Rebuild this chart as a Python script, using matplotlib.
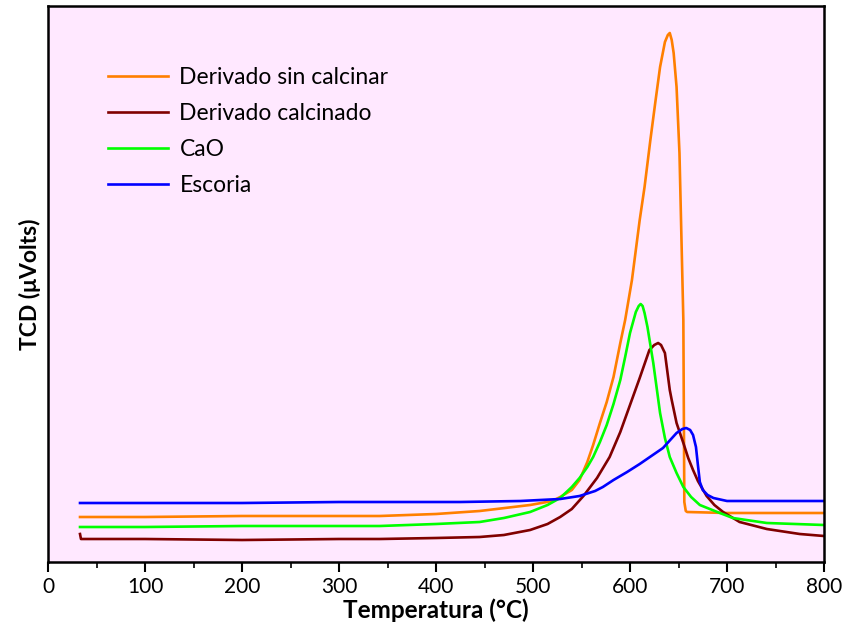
import numpy as np
import matplotlib
matplotlib.use("Agg")
import matplotlib.pyplot as plt
from matplotlib.ticker import MultipleLocator

plt.rcParams['font.family'] = ['Lato', 'DejaVu Sans']

# Data (temperature in °C, signal in arbitrary TCD units)
t_sin = [33, 100, 200, 300, 342, 400, 445, 497, 520, 528, 540, 548, 556, 562, 569, 576, 583, 590, 595, 602, 610, 615,
         621, 626, 631, 636, 639, 641, 643, 645, 648, 651, 653, 655, 656, 657.5, 659, 700, 800]
v_sin = [45, 45, 46, 46, 46, 48, 51, 57, 61, 65, 72, 82, 100, 117, 139, 160, 185, 219, 242, 282, 342, 375,
         422, 459, 495, 520, 527, 529, 522, 509, 475, 409, 325, 242, 60, 51, 50, 49, 49]

t_cal = [33, 34, 40, 100, 200, 300, 342, 400, 445, 470, 497, 515, 528, 540, 552, 566, 579, 590, 600, 610, 620, 625,
         629, 632, 636, 641, 643, 648, 655, 660, 665, 670, 679, 687, 696, 713, 741, 775, 800]
v_cal = [28, 23, 23, 23, 22, 23, 23, 24, 25, 27, 32, 38, 45, 53, 66, 84, 105, 130, 157, 184, 212, 217,
         219, 217, 209, 172, 162, 139, 119, 104, 92, 81, 66, 57, 50, 40, 33, 28, 26]

t_cao = [33, 100, 200, 300, 342, 400, 445, 470, 497, 515, 528, 540, 548, 556, 562, 569, 576, 583, 590, 595, 600, 606,
         609, 611, 613, 615, 618, 624, 631, 636, 641, 648, 655, 663, 672, 690, 706, 741, 800]
v_cao = [35, 35, 36, 36, 36, 38, 40, 44, 50, 57, 64, 75, 84, 95, 105, 120, 137, 158, 182, 205, 229, 250,
         256, 258, 256, 249, 235, 199, 149, 124, 105, 89, 75, 65, 57, 50, 44, 39, 37]

t_esc = [33, 100, 200, 300, 342, 425, 487, 528, 548, 564, 572, 583, 597, 610, 622, 634, 648, 654, 658, 662, 665,
         668, 670, 672, 675, 680, 686, 700, 750, 800]
v_esc = [59, 59, 59, 60, 60, 60, 61, 63, 66, 71, 75, 82, 90, 98, 106, 114, 129, 133, 134, 132, 127,
         115, 97, 80, 72, 67, 64, 61, 61, 61]

labels = ["Derivado sin calcinar", "Derivado calcinado", "CaO", "Escoria"]
colors = ["#FF7F00", "#800000", "#00FF00", "#0000FF"]

fig = plt.figure(figsize=(8.47, 6.34), dpi=100)
ax = fig.add_axes([48/847, 1-562/634, (824-48)/847, (562-6)/634])
ax.set_facecolor('#FFE8FF')

for t, v, lab, c in zip([t_sin, t_cal, t_cao, t_esc], [v_sin, v_cal, v_cao, v_esc], labels, colors):
    ax.plot(t, v, color=c, lw=1.9, label=lab, solid_joinstyle='round')

ax.set_xlim(0, 800)
ax.set_ylim(0, 556)
ax.xaxis.set_major_locator(MultipleLocator(100))
ax.xaxis.set_minor_locator(MultipleLocator(50))
ax.tick_params(axis='x', which='major', direction='out', length=7, width=1.5, labelsize=15, pad=4)
ax.tick_params(axis='x', which='minor', direction='out', length=4, width=1.2)
ax.set_yticks([])
for s in ax.spines.values():
    s.set_linewidth(1.8)

ax.set_xlabel("Temperatura (°C)", fontsize=17.5, fontweight='bold', labelpad=1)
ax.set_ylabel("TCD (\u03bcVolts)", fontsize=16.5, fontweight='bold', labelpad=5)

ax.legend(loc='upper left', bbox_to_anchor=(0.066, 0.906), borderaxespad=0, frameon=False, fontsize=16.5,
          handlelength=2.6, handletextpad=0.5, labelspacing=0.65)

fig.savefig("out.png", dpi=100)
